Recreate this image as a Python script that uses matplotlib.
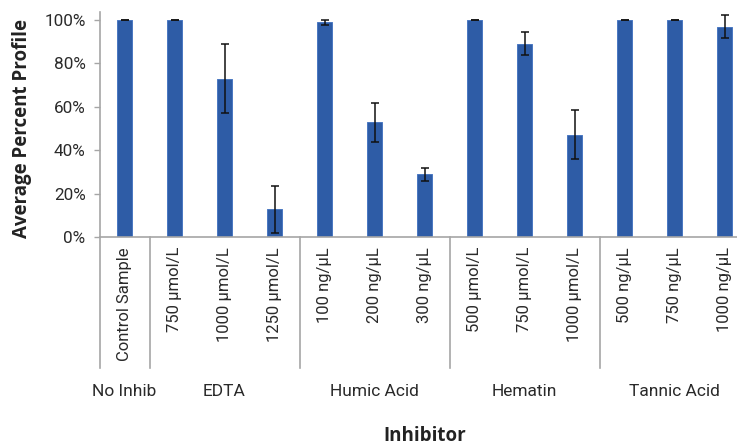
import matplotlib
matplotlib.use("Agg")
import matplotlib.pyplot as plt
import matplotlib.transforms as mtransforms
from matplotlib.ticker import FuncFormatter

# Sample labels, their inhibitor groups and measured profiles
samples = ["Control Sample", "750 µmol/L", "1000 µmol/L", "1250 µmol/L",
           "100 ng/µL", "200 ng/µL", "300 ng/µL",
           "500 µmol/L", "750 µmol/L", "1000 µmol/L",
           "500 ng/µL", "750 ng/µL", "1000 ng/µL"]
groups = ["No Inhib", "EDTA", "Humic Acid", "Hematin", "Tannic Acid"]
group_sizes = [1, 3, 3, 3, 3]
profile = [1.00, 1.00, 0.73, 0.128, 0.99, 0.53, 0.29,
           1.00, 0.89, 0.472, 1.00, 1.00, 0.968]
profile_err = [0.0, 0.0, 0.16, 0.11, 0.012, 0.09, 0.031,
               0.0, 0.053, 0.112, 0.0, 0.0, 0.053]

W, H = 737, 447
fig = plt.figure(figsize=(W / 100, H / 100), dpi=100)

ax_left, ax_right = 99.5, 749.5
ax_bottom, ax_top = 237.3, 12.0
ax = fig.add_axes([ax_left / W, 1 - ax_bottom / H,
                   (ax_right - ax_left) / W, (ax_bottom - ax_top) / H])

tick_font = "Roboto"
title_font = "Open Sans"
text_color = "#2a2a2a"
axis_color = "#a6a6a6"

x = list(range(len(samples)))
ax.bar(x, profile, width=0.3, color="#2e5ca6", edgecolor="#4a78c2",
       linewidth=0.7, zorder=2)
ax.errorbar(x, profile, yerr=profile_err, fmt="none", ecolor="#111111",
            elinewidth=1.1, capsize=3.2, capthick=1.1, zorder=3)

ax.set_xlim(-0.5, len(samples) - 0.5)
ax.set_ylim(0, 1.0369)
ax.set_yticks([0, 0.2, 0.4, 0.6, 0.8, 1.0])
ax.yaxis.set_major_formatter(FuncFormatter(lambda v, p: f"{v * 100:.0f}%"))

for side in ("top", "right"):
    ax.spines[side].set_visible(False)
for side in ("left", "bottom"):
    ax.spines[side].set_color(axis_color)
    ax.spines[side].set_linewidth(1.2)

ax.tick_params(axis="y", direction="out", length=4, width=1.0,
               color=axis_color, labelcolor=text_color, labelsize=12.3, pad=6)
for lbl in ax.get_yticklabels():
    lbl.set_family(tick_font)

ax.set_xticks(x)
ax.set_xticklabels(samples, rotation=90, va="top", ha="center",
                   family=tick_font, fontsize=12, color=text_color)
ax.tick_params(axis="x", length=0, pad=7)

# Group separators running below the axis
trans = mtransforms.blended_transform_factory(ax.transData, ax.transAxes)
sep_bottom = (ax_bottom - 368) / (ax_bottom - ax_top)
bounds = [-0.5]
for n in group_sizes:
    bounds.append(bounds[-1] + n)
for b in bounds:
    ax.plot([b, b], [0, sep_bottom], color=axis_color, lw=1.2,
            transform=trans, clip_on=False, zorder=1)

# Group names centred under each block of bars
label_y = (ax_bottom - 391) / (ax_bottom - ax_top)
start = 0
for name, n in zip(groups, group_sizes):
    centre = start + (n - 1) / 2
    ax.text(centre, label_y, name, transform=trans, ha="center", va="center",
            family=tick_font, fontsize=12.5, color=text_color)
    start += n

fig.text(425 / W, 1 - 436 / H, "Inhibitor", ha="center", va="center",
         family=title_font, fontweight="bold", fontsize=13.5, color="#222222")
fig.text(22 / W, 1 - 128 / H, "Average Percent Profile", ha="center",
         va="center", rotation=90, family=title_font, fontweight="bold",
         fontsize=13.5, color="#222222")

fig.savefig("out.png", dpi=100)
